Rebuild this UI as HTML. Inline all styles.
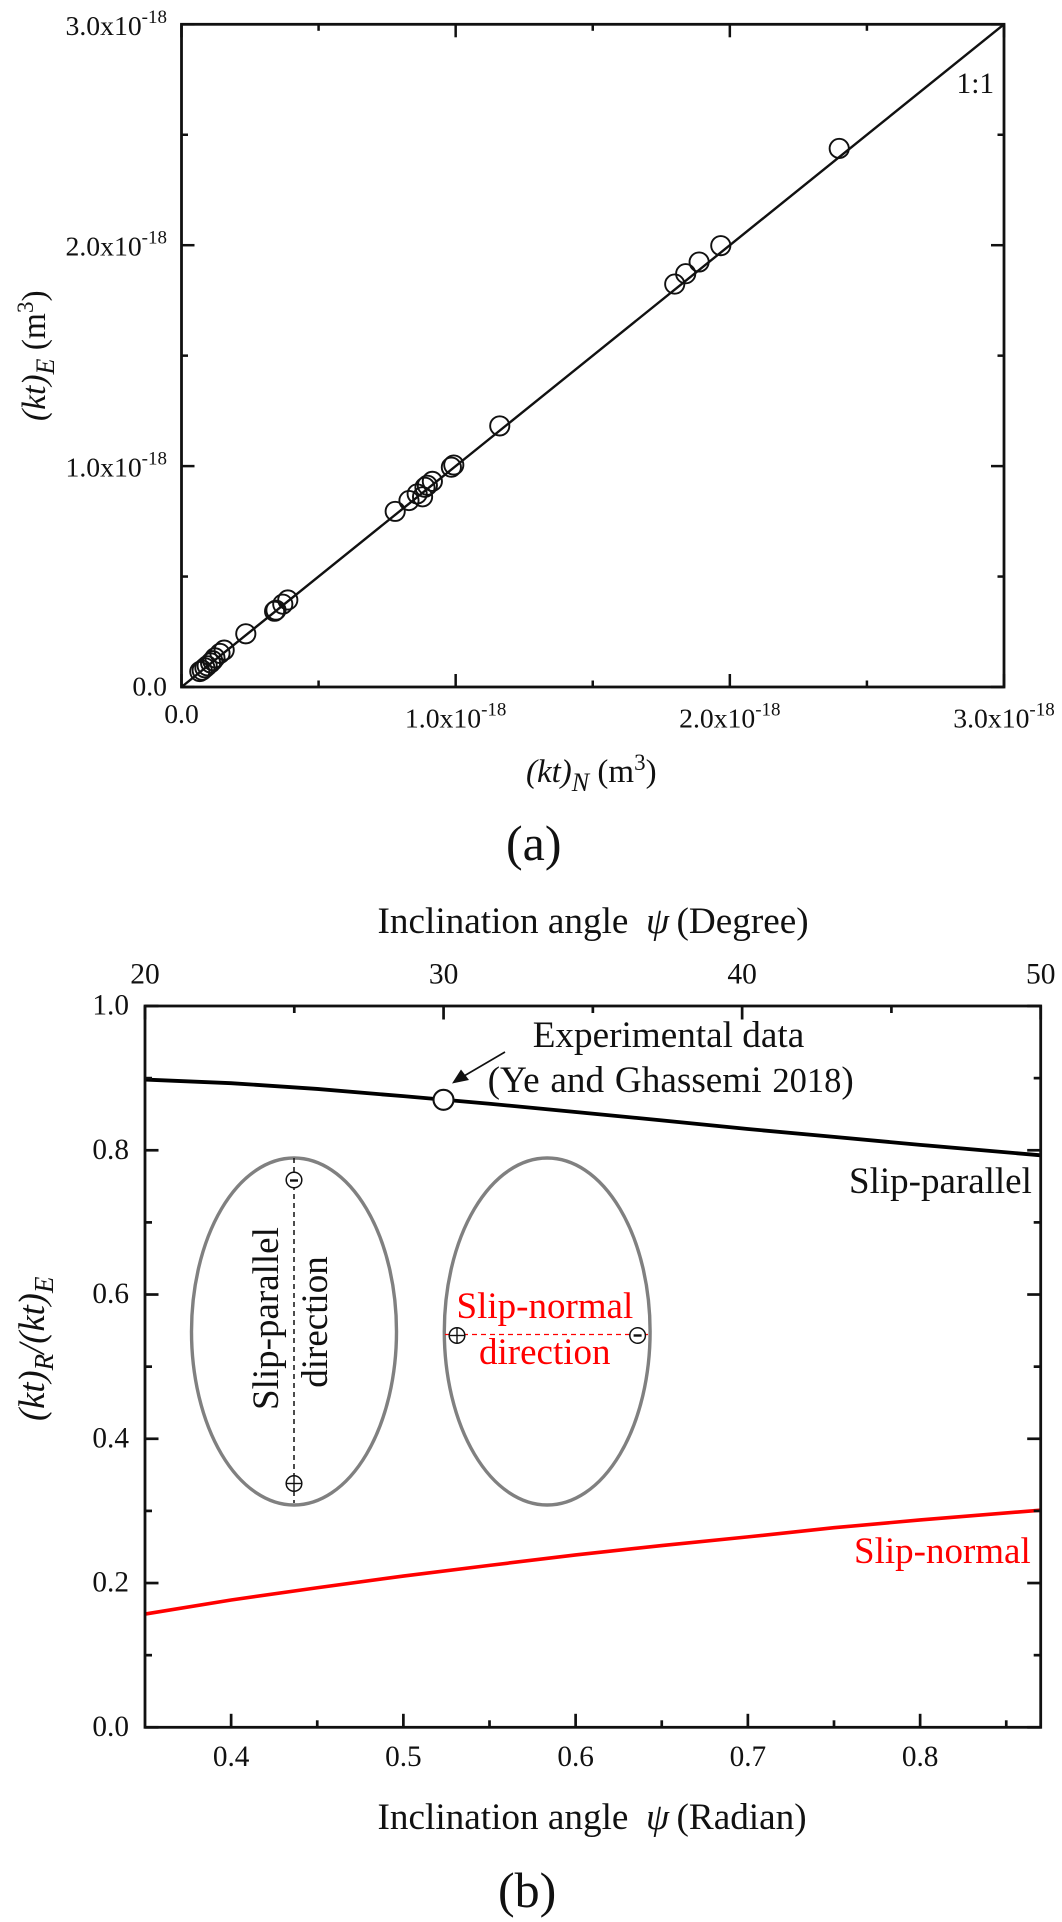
<!DOCTYPE html>
<html lang="en">
<head>
<meta charset="utf-8">
<title>Permeability comparison chart</title>
<style>
html,body{margin:0;padding:0;background:#fff;}
svg{display:block;font-family:"Liberation Serif",serif;fill:#111;}
text{fill:#111;}
.red{fill:#f00;}
</style>
</head>
<body>
<svg id="figure" xmlns="http://www.w3.org/2000/svg" width="1062" height="1922" viewBox="0 0 1062 1922">
  <rect x="0" y="0" width="1062" height="1922" fill="#fff"/>
  <g id="panelA"></g>
  <g id="panelB"></g>

  <!-- Panel (a) static text -->
  <text x="956.5" y="93" font-size="29.4">1:1</text>
  <text x="526" y="782" font-size="33"><tspan font-style="italic">(kt)</tspan><tspan font-style="italic" font-size="26" dy="9">N</tspan><tspan dy="-9"> (m</tspan><tspan font-size="23" dy="-12">3</tspan><tspan dy="12">)</tspan></text>
  <text transform="translate(45 421) rotate(-90)" font-size="33.5"><tspan font-style="italic">(kt)</tspan><tspan font-style="italic" font-size="26" dy="9">E</tspan><tspan dy="-9"> (m</tspan><tspan font-size="23" dy="-12">3</tspan><tspan dy="12">)</tspan></text>
  <text x="506" y="860" font-size="50">(a)</text>

  <!-- Panel (b) static text -->
  <text y="933" font-size="37.2"><tspan x="377.5">Inclination angle</tspan><tspan x="646" font-style="italic">ψ</tspan><tspan x="676.5">(Degree)</tspan></text>
  <text y="1829" font-size="37.2"><tspan x="377.5">Inclination angle</tspan><tspan x="646" font-style="italic">ψ</tspan><tspan x="676.5">(Radian)</tspan></text>
  <text transform="translate(44 1421) rotate(-90)" font-size="36.5"><tspan font-style="italic">(kt)</tspan><tspan font-style="italic" font-size="27" dy="9">R</tspan><tspan font-style="italic" dy="-9">/(kt)</tspan><tspan font-style="italic" font-size="27" dy="9">E</tspan></text>
  <text x="498" y="1907" font-size="50">(b)</text>

  <text x="532.7" y="1047" font-size="37.2">Experimental data</text>
  <text x="487.6" y="1092" font-size="37.2" word-spacing="1.5">(Ye and Ghassemi <tspan font-size="34.5">2018</tspan>)</text>
  <text x="849" y="1193" font-size="37">Slip-parallel</text>
  <text class="red" x="854" y="1563" font-size="37">Slip-normal</text>

  <!-- Inset ellipses -->
  <g>
    <ellipse cx="294" cy="1331.5" rx="102.5" ry="173.5" fill="none" stroke="#808080" stroke-width="3.4"/>
    <line x1="294" y1="1158" x2="294" y2="1503" stroke="#111" stroke-width="1.5" stroke-dasharray="5 4"/>
    <g>
      <circle cx="294" cy="1180" r="7.8" fill="#fff" stroke="#111" stroke-width="1.5"/>
      <line x1="290" y1="1180.5" x2="298" y2="1180.5" stroke="#111" stroke-width="2.4"/>
    </g>
    <g>
      <circle cx="294" cy="1483.5" r="7.8" fill="#fff" stroke="#111" stroke-width="1.5"/>
      <line x1="286" y1="1483.5" x2="302" y2="1483.5" stroke="#111" stroke-width="1.4"/>
      <line x1="294" y1="1476" x2="294" y2="1491" stroke="#111" stroke-width="1.4"/>
    </g>
    <text transform="translate(278 1410) rotate(-90)" font-size="37">Slip-parallel</text>
    <text transform="translate(327 1322) rotate(-90)" font-size="37" text-anchor="middle">direction</text>
  </g>
  <g>
    <ellipse cx="547.2" cy="1331.5" rx="102.9" ry="173.5" fill="none" stroke="#808080" stroke-width="3.4"/>
    <line x1="445" y1="1334.5" x2="650" y2="1334.5" stroke="#f00" stroke-width="1.3" stroke-dasharray="5 4"/>
    <g>
      <circle cx="457" cy="1335.5" r="7.8" fill="#fff" stroke="#111" stroke-width="1.5"/>
      <line x1="449" y1="1335.5" x2="465" y2="1335.5" stroke="#111" stroke-width="1.4"/>
      <line x1="457" y1="1328" x2="457" y2="1343" stroke="#111" stroke-width="1.4"/>
    </g>
    <g>
      <circle cx="637.6" cy="1335.5" r="7.8" fill="#fff" stroke="#111" stroke-width="1.5"/>
      <line x1="633.6" y1="1335.5" x2="641.6" y2="1335.5" stroke="#111" stroke-width="2.4"/>
    </g>
    <text class="red" x="456.5" y="1318" font-size="37">Slip-normal</text>
    <text class="red" x="479" y="1364" font-size="37">direction</text>
  </g>

  <!-- Annotation arrow -->
  <g>
    <line x1="505" y1="1052" x2="464" y2="1076" stroke="#111" stroke-width="1.6"/>
    <polygon points="452,1083.5 461,1069.5 469,1080" fill="#111"/>
  </g>
</svg>

<script>
// ---------- Panel (a) data (units of 1e-18 m^3) ----------
var aXTicks = [0, 1, 2, 3];
var aYTicks = [0, 1, 2, 3];
var aMinorTicks = [0.5, 1.5, 2.5];
var aTickLabels = ["0.0", "1.0x10", "2.0x10", "3.0x10"];
var aTickExponents = ["", "-18", "-18", "-18"];
var identityLine = [0, 3];
var ktNumerical = [0.0667, 0.0755, 0.0853, 0.0937, 0.106, 0.1138, 0.122, 0.1404, 0.1557, 0.2345, 0.3395, 0.3446, 0.3694, 0.3877, 0.7794, 0.8297, 0.8596, 0.8793, 0.888, 0.8968, 0.915, 0.9843, 0.9931, 1.1608, 1.799, 1.839, 1.888, 1.967, 2.399];
var ktExperimental = [0.070, 0.076, 0.087, 0.096, 0.109, 0.119, 0.132, 0.152, 0.167, 0.241, 0.343, 0.348, 0.375, 0.394, 0.795, 0.844, 0.874, 0.861, 0.904, 0.913, 0.931, 0.995, 1.005, 1.182, 1.824, 1.871, 1.924, 1.998, 2.438];

// ---------- Panel (b) data ----------
var radianTicks = [0.4, 0.5, 0.6, 0.7, 0.8];
var radianTickLabels = ["0.4", "0.5", "0.6", "0.7", "0.8"];
var radianMinorTicks = [0.45, 0.55, 0.65, 0.75, 0.85];
var degreeTicks = [20, 30, 40, 50];
var degreeTickLabels = ["20", "30", "40", "50"];
var degreeMinorTicks = [25, 35, 45];
var ratioTicks = [0, 0.2, 0.4, 0.6, 0.8, 1.0];
var ratioTickLabels = ["0.0", "0.2", "0.4", "0.6", "0.8", "1.0"];
var ratioMinorTicks = [0.1, 0.3, 0.5, 0.7, 0.9];
var inclination = [0.35, 0.40, 0.45, 0.50, 0.55, 0.60, 0.65, 0.70, 0.75, 0.80, 0.87];
var slipParallel = [0.898, 0.893, 0.885, 0.875, 0.8645, 0.853, 0.8415, 0.8295, 0.8185, 0.8075, 0.793];
var slipNormal = [0.157, 0.1765, 0.1935, 0.2097, 0.2245, 0.239, 0.252, 0.264, 0.2767, 0.2875, 0.301];
var experimentX = [0.5233];
var experimentY = [0.870];

// ---------- Axis functions ----------
function axScaleX(v) { return 181.5 + (v / 3) * (1004 - 181.5); }
function axScaleY(v) { return 687 - (v / 3) * (687 - 24.3); }
function bScaleX(v) { return 145 + ((v - 0.35) / (0.87 - 0.35)) * (1040.7 - 145); }
function bScaleTop(v) { return 145 + ((v - 20) / 30) * (1040.7 - 145); }
function bScaleY(v) { return 1727.3 - v * (1727.3 - 1006); }

var NS = "http://www.w3.org/2000/svg";
function mk(parent, tag, attrs) {
  var el = document.createElementNS(NS, tag);
  for (var k in attrs) { el.setAttribute(k, attrs[k]); }
  parent.appendChild(el);
  return el;
}
function seg(parent, x1, y1, x2, y2, w) {
  return mk(parent, "line", { x1: x1, y1: y1, x2: x2, y2: y2, stroke: "#111", "stroke-width": w });
}
function label(parent, x, y, size, anchor, main, exp) {
  var t = mk(parent, "text", { x: x, y: y, "font-size": size, "text-anchor": anchor });
  t.textContent = main;
  if (exp) {
    var s = mk(t, "tspan", { "font-size": 19, dy: -12 });
    s.textContent = exp;
  }
  return t;
}

// ---------- Panel (a) ----------
var pa = document.getElementById("panelA");
var el, i, px, py;

el = seg(pa, axScaleX(identityLine[0]), axScaleY(identityLine[0]), axScaleX(identityLine[1]), axScaleY(identityLine[1]), 2.4);



for (i = 0; i < ktNumerical.length; i++) {
  el = mk(pa, "circle", { cx: axScaleX(ktNumerical[i]), cy: axScaleY(ktExperimental[i]), r: 9.6, fill: "none", stroke: "#111", "stroke-width": 1.9 });
  
  
}

el = mk(pa, "rect", { x: axScaleX(0), y: axScaleY(3), width: axScaleX(3) - axScaleX(0), height: axScaleY(0) - axScaleY(3), fill: "none", stroke: "#111", "stroke-width": 2.8 });



for (i = 0; i < aXTicks.length; i++) {
  px = axScaleX(aXTicks[i]);
  el = seg(pa, px, axScaleY(0), px, axScaleY(0) - 13, 2.5);
  
  
  el = seg(pa, px, axScaleY(3), px, axScaleY(3) + 13, 2.5);
  
  
  el = label(pa, px, aXTicks[i] === 0 ? 723 : 727.5, 27.7, "middle", aTickLabels[i], aTickExponents[i]);
  
  
}
for (i = 0; i < aYTicks.length; i++) {
  py = axScaleY(aYTicks[i]);
  el = seg(pa, axScaleX(0), py, axScaleX(0) + 13, py, 2.5);
  
  
  el = seg(pa, axScaleX(3), py, axScaleX(3) - 13, py, 2.5);
  
  
  el = label(pa, 167, py + (aYTicks[i] === 0 ? 8.7 : 10.5), 27.7, "end", aTickLabels[i], aTickExponents[i]);
  
  
}
for (i = 0; i < aMinorTicks.length; i++) {
  px = axScaleX(aMinorTicks[i]);
  py = axScaleY(aMinorTicks[i]);
  el = seg(pa, px, axScaleY(0), px, axScaleY(0) - 6.5, 2.5);
  
  
  el = seg(pa, px, axScaleY(3), px, axScaleY(3) + 6.5, 2.5);
  
  
  el = seg(pa, axScaleX(0), py, axScaleX(0) + 6.5, py, 2.5);
  
  
  el = seg(pa, axScaleX(3), py, axScaleX(3) - 6.5, py, 2.5);
  
  
}

// ---------- Panel (b) ----------
var pb = document.getElementById("panelB");

function curvePath(ys) {
  var d = "";
  for (var j = 0; j < inclination.length; j++) {
    d += (j ? "L" : "M") + bScaleX(inclination[j]).toFixed(2) + " " + bScaleY(ys[j]).toFixed(2);
  }
  return d;
}
el = mk(pb, "path", { d: curvePath(slipParallel), fill: "none", stroke: "#000", "stroke-width": 3.8 });


el = mk(pb, "path", { d: curvePath(slipNormal), fill: "none", stroke: "#f00", "stroke-width": 3.6 });



for (i = 0; i < experimentX.length; i++) {
  el = mk(pb, "circle", { cx: bScaleX(experimentX[i]), cy: bScaleY(experimentY[i]), r: 10, fill: "#fff", stroke: "#111", "stroke-width": 2.1 });
  
  
}

el = mk(pb, "rect", { x: 145, y: bScaleY(1), width: 1040.7 - 145, height: bScaleY(0) - bScaleY(1), fill: "none", stroke: "#111", "stroke-width": 2.8 });



for (i = 0; i < radianTicks.length; i++) {
  px = bScaleX(radianTicks[i]);
  el = seg(pb, px, bScaleY(0), px, bScaleY(0) - 13.5, 2.7);
  
  
  el = label(pb, px, 1766, 29.3, "middle", radianTickLabels[i]);
  
  
}
for (i = 0; i < radianMinorTicks.length; i++) {
  px = bScaleX(radianMinorTicks[i]);
  el = seg(pb, px, bScaleY(0), px, bScaleY(0) - 7, 2.7);
  
  
}
for (i = 0; i < degreeTicks.length; i++) {
  px = bScaleTop(degreeTicks[i]);
  el = seg(pb, px, bScaleY(1), px, bScaleY(1) + 13.5, 2.7);
  
  
  el = label(pb, px, 983.5, 29.5, "middle", degreeTickLabels[i]);
  
  
}
for (i = 0; i < degreeMinorTicks.length; i++) {
  px = bScaleTop(degreeMinorTicks[i]);
  el = seg(pb, px, bScaleY(1), px, bScaleY(1) + 7, 2.7);
  
  
}
for (i = 0; i < ratioTicks.length; i++) {
  py = bScaleY(ratioTicks[i]);
  el = seg(pb, 145, py, 158.5, py, 2.7);
  
  
  el = seg(pb, 1040.7, py, 1027.2, py, 2.7);
  
  
  el = label(pb, 129, py + 8.6, 29.3, "end", ratioTickLabels[i]);
  
  
}
for (i = 0; i < ratioMinorTicks.length; i++) {
  py = bScaleY(ratioMinorTicks[i]);
  el = seg(pb, 145, py, 152, py, 2.7);
  
  
  el = seg(pb, 1040.7, py, 1033.7, py, 2.7);
  
  
}
</script>
</body>
</html>
